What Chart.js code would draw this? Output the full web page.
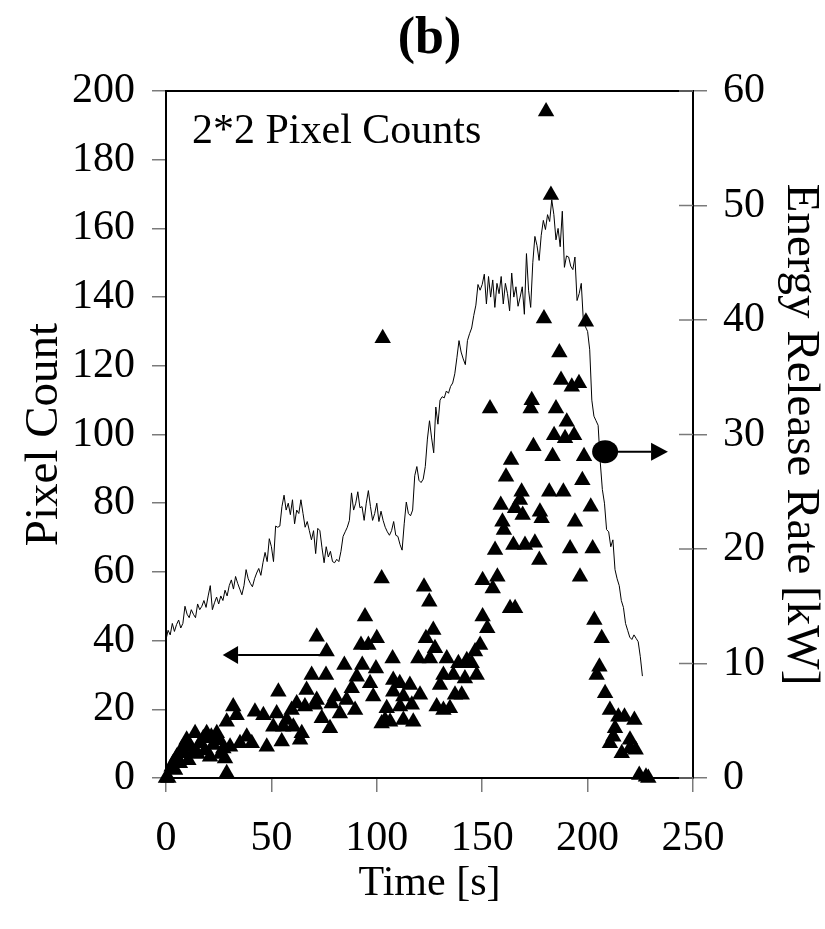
<!DOCTYPE html>
<html>
<head>
<meta charset="utf-8">
<script src="https://cdn.jsdelivr.net/npm/chart.js@4.4.1/dist/chart.umd.min.js"></script>
<style>
  html, body { margin: 0; padding: 0; background: #fff; }
</style>
</head>
<body>
<canvas id="chart" width="825" height="929"></canvas>
<script>
// 2*2 pixel counts (left axis), time in s
const countTime = [
  0, 1.1, 2.7, 3.5, 4.3, 5.1, 6.6, 7.5, 8.2, 9, 9.8, 10.6, 11.5, 13, 13.8, 15, 16.1, 17.7, 18.5, 19.3,
  20.9, 21.5, 22.4, 24.1, 25.5, 26, 27.2, 28, 28.8, 28.8, 30.4, 31.9, 33.5, 35.1, 38.3, 40.7, 42.2, 46.2, 47.8, 50.9,
  52.5, 53.3, 54.9, 55.6, 57.3, 59.6, 60.4, 62, 63.6, 64.4, 65.9, 66.7, 69.1, 70.7, 71.5, 71.5, 73.9, 75.9, 76.2, 77.8,
  78.6, 80.2, 82.5, 84.6, 85.7, 88.1, 89.7, 90.5, 92.5, 93.1, 94.4, 96, 96.8, 98.3, 99.6, 100, 102.3, 102.3, 102.8, 103.9,
  104.7, 106.3, 107.5, 107.8, 107.8, 110.9, 111, 112.6, 112.6, 115.7, 116.6, 117.3, 119.7, 120.5, 122.4, 123.3, 124.9, 125.2, 126.8, 127.6,
  128.4, 130, 131.6, 131.6, 133.2, 134.7, 136.3, 137.1, 138.7, 140.3, 141.8, 142.7, 145, 146.6, 147.4, 149, 150.2, 150.2, 152.4, 153.7,
  155, 156.1, 157.2, 158.8, 159.6, 160.3, 161.3, 163.2, 163.7, 164.8, 165.6, 165.6, 167.9, 168.7, 169.2, 170.3, 173, 173.5, 174.3, 175,
  177.1, 177.4, 178.2, 179.3, 180.3, 181.8, 182.6, 183.4, 184.1, 185, 186.6, 187.4, 188.5, 189.3, 190.1, 191.7, 192.5, 193.6, 194, 195.9,
  196.4, 197.5, 198.3, 199.2, 201.5, 202.4, 203.2, 204.3, 205.6, 206.7, 208.3, 210.6, 210.6, 212.2, 213, 214.6, 216.2, 217.5, 220.1, 220.1,
  222.2, 222.8, 224.5, 227.7, 228.8
];
const pixelCount = [
  0, 0, 3.3, 4.5, 2.3, 6.2, 4.3, 8.5, 7.2, 9.6, 11.1, 5.2, 9, 7.2, 13, 7, 10.1, 11.6, 8, 13,
  6.2, 12, 9.6, 13, 11, 7, 8.6, 5.7, 16.4, 1.4, 9.1, 20.8, 18.3, 10.1, 12, 10.1, 19.3, 18.3, 9.1, 14.9,
  18.8, 25.1, 10.6, 14.9, 16.9, 19.8, 14.9, 21.7, 11.1, 13, 20.8, 25.6, 30, 21.3, 22.7, 41.1, 17.4, 30, 36.8, 14.5,
  21.7, 23.7, 18.8, 32.9, 22.7, 26.1, 19.8, 29.5, 38.7, 32.9, 47, 38.7, 27.6, 23.7, 31.9, 40.7, 58.1, 15.9, 128, 16.9,
  20.3, 16.4, 34.8, 28.5, 25.1, 27.6, 20.8, 23.7, 16.9, 27.1, 21.3, 16.4, 34.8, 24.2, 55.7, 40.7, 51.3, 34.8, 43.1, 37.8,
  20.8, 27.1, 30, 19.8, 34.8, 20.3, 30, 24.2, 33.4, 24.2, 29, 34.3, 33.4, 36.8, 30, 38.7, 47, 57.6, 43.6, 107.6,
  55.2, 66.4, 58.6, 79.5, 74.6, 72.2, 87.7, 49.4, 92.6, 67.8, 49.4, 78.5, 80.9, 83.3, 76.6, 67.8, 107.6, 110, 96.6, 68.5,
  63.5, 77.5, 75.6, 133.8, 194, 83.3, 169.7, 93.7, 99.8, 107.6, 123.9, 115.9, 83.3, 98.9, 103.7, 66.8, 113.9, 99.8, 74.6, 114.9,
  58.6, 86.7, 93.7, 132.8, 79, 66.8, 46, 30, 32.4, 40.7, 24.7, 19.8, 10.1, 12, 14.5, 17.8, 7.2, 17.8, 11.1, 8.6,
  16.9, 8.2, 0.9, 0.4, 0
];

// energy release rate (right axis), kW, one reading per second from t = 0
const energyStart = 0;
const energyStep = 1;
const energyRate = [
  12.1, 12.9, 12.5, 13.5, 12.8, 13.4, 13.8, 13.1, 13.5, 15.0, 14.3, 14.0, 14.7, 14.3, 14.0, 15.2, 14.7, 15.0, 15.5, 14.9,
  15.9, 16.8, 14.7, 15.3, 15.8, 15.2, 15.9, 15.5, 16.4, 15.9, 16.8, 17.3, 16.5, 17.6, 17.0, 16.5, 16.0, 16.8, 18.2, 17.4,
  17.0, 16.7, 17.4, 17.9, 18.3, 17.7, 18.8, 19.7, 18.9, 20.9, 20.2, 18.9, 22.0, 21.9, 22.0, 23.7, 24.7, 23.4, 24.0, 23.0,
  24.3, 22.2, 23.4, 23.1, 24.3, 23.1, 21.9, 22.4, 21.6, 20.8, 21.6, 19.6, 21.8, 21.6, 20.1, 18.8, 20.2, 19.3, 19.8, 18.9,
  18.8, 19.1, 18.9, 19.8, 21.1, 21.5, 21.9, 22.5, 24.9, 23.4, 24.0, 25.0, 23.6, 23.7, 22.5, 24.0, 25.1, 23.7, 22.5, 23.1,
  24.0, 22.4, 23.3, 22.5, 21.9, 21.5, 21.2, 21.6, 22.4, 21.2, 21.1, 20.4, 19.9, 22.2, 24.1, 23.1, 22.9, 23.4, 26.4, 27.2,
  26.0, 25.8, 26.1, 27.2, 29.6, 31.2, 29.7, 28.4, 32.4, 30.9, 33.0, 33.3, 33.2, 33.8, 33.6, 34.2, 34.5, 35.3, 36.7, 38.2,
  37.2, 36.6, 36.1, 38.2, 38.8, 39.3, 40.4, 41.3, 43.1, 42.6, 43.1, 44.0, 41.4, 43.8, 42.0, 43.5, 41.1, 43.2, 42.3, 43.8,
  41.4, 43.2, 42.3, 40.8, 44.1, 42.0, 42.9, 41.2, 42.0, 42.9, 40.5, 45.8, 42.6, 41.1, 45.0, 47.3, 46.5, 45.2, 47.4, 48.7,
  47.9, 49.2, 48.6, 50.5, 49.2, 47.0, 48.0, 46.4, 49.5, 44.6, 45.6, 45.5, 44.7, 44.4, 45.5, 41.7, 42.3, 43.2, 39.9, 39.4,
  39.0, 37.4, 33.0, 31.6, 31.2, 30.8, 27.6, 25.2, 24.0, 21.7, 21.5, 20.2, 20.8, 18.2, 17.4, 16.8, 15.5, 14.9, 13.5, 12.9,
  12.3, 12.1, 12.5, 12.2, 11.9, 10.6, 8.9
];

const timeTicks = [0, 50, 100, 150, 200, 250];
const countTicks = [0, 20, 40, 60, 80, 100, 120, 140, 160, 180, 200];
const energyTicks = [0, 10, 20, 30, 40, 50, 60];

const serif = "'Liberation Serif', 'Times New Roman', serif";
const tickGrey = '#7a7a7a';

// panel letter, frame top, inner half of right ticks, label text and the two axis arrows
const decorations = {
  id: 'decorations',
  afterDraw(chart) {
    const { ctx, chartArea: a, scales: { x, y, y2 } } = chart;
    ctx.save();
    ctx.fillStyle = '#000';
    ctx.font = 'bold 52px ' + serif;
    ctx.textAlign = 'center';
    ctx.textBaseline = 'middle';
    ctx.fillText('(b)', (a.left + a.right) / 2, 40);

    ctx.strokeStyle = '#000';
    ctx.lineWidth = 2;
    ctx.beginPath();
    ctx.moveTo(a.left - 1, a.top);
    ctx.lineTo(a.right + 1, a.top);
    ctx.stroke();

    ctx.strokeStyle = tickGrey;
    ctx.lineWidth = 1.5;
    energyTicks.forEach(v => {
      const py = y2.getPixelForValue(v);
      ctx.beginPath();
      ctx.moveTo(a.right - 14, py);
      ctx.lineTo(a.right, py);
      ctx.stroke();
    });

    ctx.font = '42px ' + serif;
    ctx.textAlign = 'left';
    ctx.textBaseline = 'alphabetic';
    ctx.fillText('2*2 Pixel Counts', a.left + 26, a.top + 52);

    // arrow pointing to the left axis
    ctx.strokeStyle = '#000';
    ctx.lineWidth = 2;
    let ly = y.getPixelForValue(35.8);
    let x1 = x.getPixelForValue(74.3), xb = x.getPixelForValue(34.2), xt = x.getPixelForValue(26.9);
    ctx.beginPath(); ctx.moveTo(x1, ly); ctx.lineTo(xb, ly); ctx.stroke();
    ctx.beginPath(); ctx.moveTo(xt, ly); ctx.lineTo(xb, ly - 9); ctx.lineTo(xb, ly + 9); ctx.closePath(); ctx.fill();

    // marker and arrow pointing to the right axis
    let ry = y2.getPixelForValue(28.5);
    let ex = x.getPixelForValue(208.3);
    xb = x.getPixelForValue(230.1); xt = x.getPixelForValue(238.1);
    ctx.beginPath(); ctx.moveTo(ex, ry); ctx.lineTo(xb, ry); ctx.stroke();
    ctx.beginPath(); ctx.moveTo(xt, ry); ctx.lineTo(xb, ry - 9); ctx.lineTo(xb, ry + 9); ctx.closePath(); ctx.fill();
    ctx.beginPath(); ctx.ellipse(ex, ry, 13, 11.5, 0, 0, Math.PI * 2); ctx.fill();
    ctx.restore();
  }
};

const tickFont = { family: serif, size: 42 };
const titleFont = { family: serif, size: 47, lineHeight: 1 };

new Chart(document.getElementById('chart'), {
  type: 'scatter',
  data: {
    datasets: [
      {
        label: 'Energy Release Rate',
        type: 'line',
        data: energyRate.map((v, i) => ({ x: energyStart + i * energyStep, y: v })),
        yAxisID: 'y2',
        borderColor: '#000',
        borderWidth: 1,
        pointRadius: 0,
        tension: 0,
        fill: false,
      },
      {
        label: '2*2 Pixel Counts',
        data: countTime.map((t, i) => ({ x: t, y: pixelCount[i] })),
        yAxisID: 'y',
        pointStyle: 'triangle',
        pointRadius: 9.5,
        pointBackgroundColor: '#000',
        pointBorderColor: '#000',
        pointBorderWidth: 0,
        clip: false,
      },
    ],
  },
  options: {
    responsive: false,
    animation: false,
    devicePixelRatio: 1,
    layout: { padding: { top: 91, left: 0, right: 0, bottom: 0 } },
    plugins: {
      legend: { display: false },
      tooltip: { enabled: false },
      title: { display: false },
    },
    scales: {
      x: {
        type: 'linear',
        min: 0,
        max: 250,
        afterFit: s => { s.height = 151; },
        afterBuildTicks: s => { s.ticks = timeTicks.map(v => ({ value: v })); },
        ticks: { color: '#000', font: tickFont, padding: 22, maxRotation: 0 },
        grid: { drawOnChartArea: false, drawTicks: true, tickLength: 14, color: tickGrey, lineWidth: 1.5 },
        border: { display: true, color: '#000', width: 2 },
        title: {
          display: true, text: 'Time [s]', color: '#000',
          font: { family: serif, size: 42, lineHeight: 1 }, padding: { top: 0, bottom: 24 },
        },
      },
      y: {
        position: 'left',
        min: 0,
        max: 200,
        afterFit: s => { s.width = 166; },
        afterBuildTicks: s => { s.ticks = countTicks.map(v => ({ value: v })); },
        ticks: { color: '#000', font: tickFont, padding: 17 },
        grid: { drawOnChartArea: false, drawTicks: true, tickLength: 14, color: tickGrey, lineWidth: 1.5 },
        border: { display: true, color: '#000', width: 2 },
        title: {
          display: true, text: 'Pixel Count', color: '#000',
          font: titleFont, padding: { top: 21, bottom: 0 },
        },
      },
      y2: {
        position: 'right',
        min: 0,
        max: 60,
        afterFit: s => { s.width = 132; },
        afterBuildTicks: s => { s.ticks = energyTicks.map(v => ({ value: v })); },
        ticks: { color: '#000', font: tickFont, padding: 16 },
        grid: { drawOnChartArea: false, drawTicks: true, tickLength: 14, color: tickGrey, lineWidth: 1.5 },
        border: { display: true, color: '#000', width: 2 },
        title: {
          display: true, text: 'Energy Release Rate [kW]', color: '#000',
          font: titleFont, padding: { top: 1, bottom: 0 },
        },
      },
    },
  },
  plugins: [decorations],
});
</script>
</body>
</html>
